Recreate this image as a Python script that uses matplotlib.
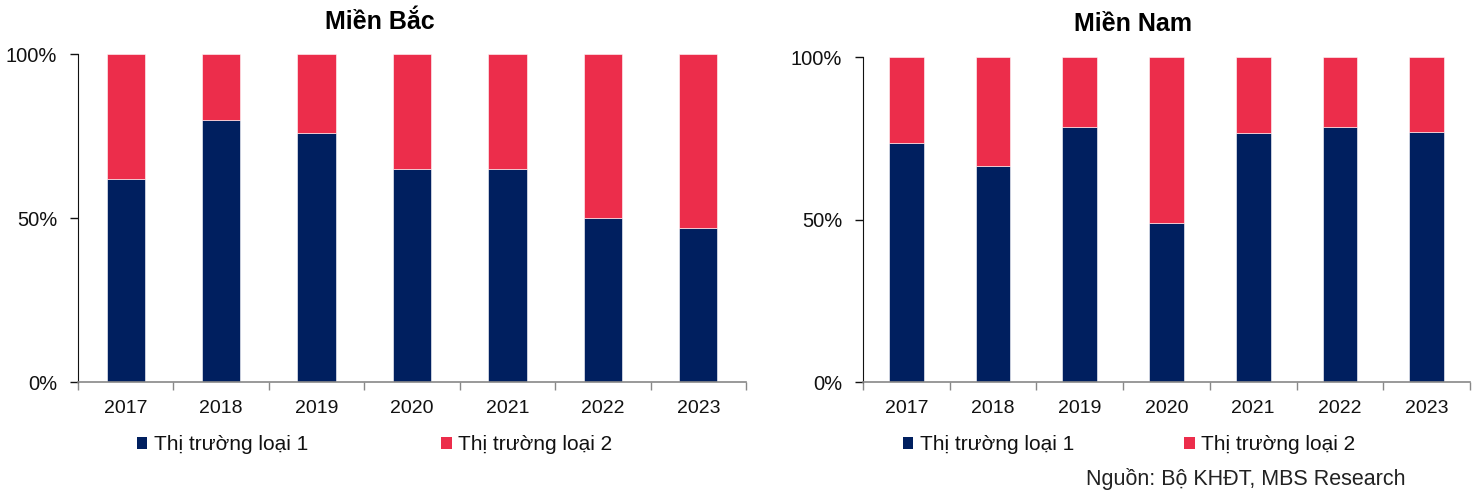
import matplotlib
matplotlib.use("Agg")
import matplotlib.pyplot as plt
from matplotlib.patches import Patch
import numpy as np

plt.rcParams['font.family'] = ['Liberation Sans', 'DejaVu Sans']

years = ["2017", "2018", "2019", "2020", "2021", "2022", "2023"]
bac_loai1 = [62, 80, 76, 65, 65, 50, 47]
nam_loai1 = [73.5, 66.5, 78.5, 49, 76.5, 78.5, 77]
series_names = ["Thị trường loại 1", "Thị trường loại 2"]
titles = ["Miền Bắc", "Miền Nam"]
source = "Nguồn: Bộ KHĐT, MBS Research"

NAVY = "#001F5F"
RED = "#EC2D4B"

W, H = 1472, 491
fig = plt.figure(figsize=(W / 100, H / 100), dpi=100)

def px_axes(x0, x1, ytop, ybot):
    return fig.add_axes([x0 / W, (H - ybot) / H, (x1 - x0) / W, (ybot - ytop) / H])

panels = [
    dict(box=(78, 746, 54, 382), vals=bac_loai1, title=titles[0], tx=380, ty=22,
         leg_x=137, colsp=6.4),
    dict(box=(863, 1470, 57, 382), vals=nam_loai1, title=titles[1], tx=1133, ty=24,
         leg_x=903, colsp=5.3),
]

for p in panels:
    x0, x1, ytop, ybot = p["box"]
    ax = px_axes(x0, x1, ytop, ybot)
    v1 = np.array(p["vals"], dtype=float)
    v2 = 100 - v1
    x = np.arange(len(years))
    ax.bar(x, v1, width=0.4, color=NAVY, edgecolor="white", linewidth=0.4)
    ax.bar(x, v2, bottom=v1, width=0.4, color=RED, edgecolor="white", linewidth=0.4)
    ax.set_xlim(-0.5, len(years) - 0.5)
    ax.set_ylim(0, 100)
    ax.set_yticks([0, 50, 100])
    ax.set_yticklabels(["0%", "50%", "100%"])
    ax.set_xticks(x)
    ax.set_xticklabels(years)
    ax.set_xticks(np.arange(-0.5, len(years), 1.0), minor=True)
    ax.tick_params(axis="x", which="major", length=0, pad=13, labelsize=14, colors="#111111")
    ax.tick_params(axis="x", which="minor", length=6, color="#888888", width=1)
    ax.tick_params(axis="y", length=6, width=1, color="#111111", labelsize=14.5, pad=9,
                   labelcolor="#111111")
    for s in ["top", "right"]:
        ax.spines[s].set_visible(False)
    ax.spines["left"].set_color("#111111")
    ax.spines["bottom"].set_color("#888888")
    ax.spines["bottom"].set_linewidth(1.2)
    fig.text(p["tx"] / W, 1 - p["ty"] / H, p["title"], ha="center", va="center",
             fontsize=18, fontweight="bold")
    handles = [Patch(facecolor=NAVY), Patch(facecolor=RED)]
    fig.legend(handles, series_names, loc="center left",
               bbox_to_anchor=(p["leg_x"] / W, 1 - 445 / H),
               ncol=2, frameon=False, fontsize=15, handlelength=0.5, handleheight=0.5,
               handletextpad=0.3, columnspacing=p["colsp"], borderaxespad=0, borderpad=0,
               labelcolor="#111111")

fig.text(1405 / W, 1 - 479 / H, source, ha="right", va="center", fontsize=15.5, color="#222222")

fig.savefig("out.png", dpi=100)
